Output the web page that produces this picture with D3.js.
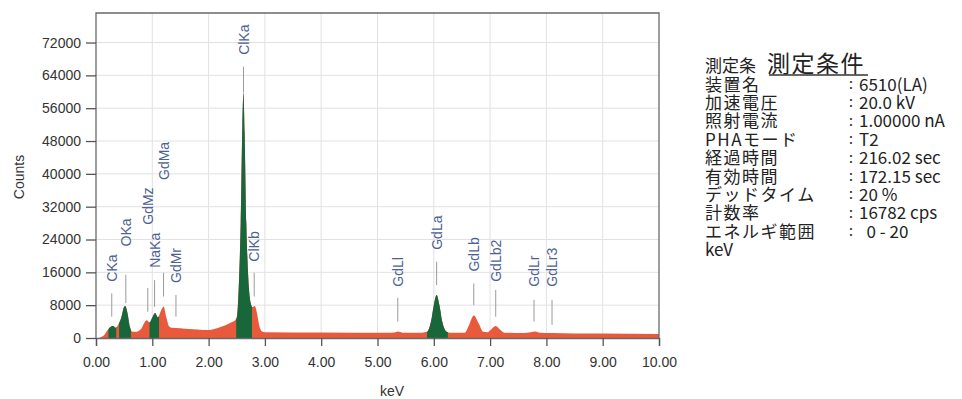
<!DOCTYPE html>
<html>
<head>
<meta charset="utf-8">
<script src="https://cdn.jsdelivr.net/npm/d3@7"></script>
<style>
  html, body { margin: 0; padding: 0; background: #fff; }
  svg { display: block; }
</style>
</head>
<body>
<div id="chart"></div>
<script>
// spectrum (keV vs counts)
const energy = [0.00, 0.05, 0.10, 0.15, 0.20, 0.25, 0.30, 0.35, 0.40, 0.45, 0.50, 0.52, 0.56, 0.60, 0.65, 0.70,
  0.80, 0.85, 0.90, 0.95, 1.00, 1.05, 1.10, 1.15, 1.20, 1.25, 1.30, 1.35, 1.50, 1.65, 1.80, 2.00, 2.20, 2.40, 2.46,
  2.50, 2.54, 2.57, 2.60, 2.62, 2.64, 2.67, 2.70, 2.74, 2.78, 2.82, 2.86, 2.90, 2.95, 3.00, 4.00, 5.20, 5.30,
  5.36, 5.45, 5.80, 5.88, 5.95, 6.00, 6.05, 6.10, 6.15, 6.22, 6.30, 6.55, 6.62, 6.71, 6.80, 6.88, 6.95, 7.02,
  7.10, 7.18, 7.25, 7.60, 7.72, 7.80, 7.88, 8.10, 8.50, 9.00, 10.00]
const counts = [0, 0, 300, 800, 1800, 2600, 2900, 2500, 3400, 5000, 7600, 7800, 6000, 2800, 1500, 1500,
  2200, 3500, 4300, 3800, 5000, 6100, 5000, 6500, 7700, 5000, 2800, 2500, 2400, 2200, 2100, 1950, 2600, 3800, 4200,
  5000, 14000, 28000, 52000, 59800, 50000, 28000, 16000, 9000, 7500, 7800, 6000, 3000, 1600, 1400, 1350, 1300, 1350,
  1600, 1300, 1300, 1500, 4000, 8000, 10500, 8000, 4000, 1600, 1300, 1300, 3000, 5500, 3500, 1500, 1400, 2100,
  2900, 2000, 1300, 1200, 1400, 1600, 1300, 1200, 1100, 1100, 1000]

// green (ROI) windows
const roiStart = [0.22, 0.41, 0.95, 2.49, 5.88]
const roiEnd = [0.36, 0.62, 1.12, 2.77, 6.25]

// peak markers: name, keV, marker low/high (counts), text base (counts)
const peakNames = ['CKa', 'OKa', 'GdMz', 'NaKa', 'GdMa', 'GdMr', 'ClKa', 'ClKb', 'GdLl', 'GdLa', 'GdLb', 'GdLb2', 'GdLr', 'GdLr3']
const peakKeV = [0.28, 0.53, 0.92, 1.04, 1.20, 1.42, 2.62, 2.81, 5.36, 6.05, 6.71, 7.10, 7.78, 8.10]
const markLow = [5200, 8500, 6400, 7600, 10100, 5200, 59800, 10100, 4000, 12900, 8000, 5200, 4000, 3200]
const markHigh = [10900, 15400, 12200, 14100, 15900, 10500, 66100, 15900, 9800, 18600, 13300, 11700, 9300, 9300]
const textBase = [13700, 22300, 27600, 17100, 38500, 13400, 69000, 18600, 12500, 21500, 16200, 13700, 12500, 12500]

const xTicks = [0, 1, 2, 3, 4, 5, 6, 7, 8, 9, 10]
const yTicks = [0, 8000, 16000, 24000, 32000, 40000, 48000, 56000, 64000, 72000]

// measurement conditions
const condLabels = ['装置名', '加速電圧', '照射電流', 'PHAモード', '経過時間', '有効時間', 'デッドタイム', '計数率', 'エネルギ範囲']
const condValues = ['6510(LA)', '20.0 kV', '1.00000 nA', 'T2', '216.02 sec', '172.15 sec', '20 %', '16782 cps', '  0 - 20']

const width = 962
const height = 399
const plotL = 96, plotR = 659, plotT = 13, plotB = 338

const svg = d3.select('#chart').append('svg')
  .attr('width', width)
  .attr('height', height)
  .style('font-family', '"Liberation Sans", Arial, sans-serif')

svg.append('rect').attr('width', width).attr('height', height).attr('fill', '#fff')

const x = d3.scaleLinear().domain([0, 10]).range([plotL, plotR])
const y = d3.scaleLinear().domain([0, 79200]).range([plotB, plotT])

// grid
const grid = svg.append('g').attr('stroke', '#e2e2e2').attr('stroke-width', 1)
grid.selectAll('.vg')
  .data(xTicks.filter(d => d > 0 && d < 10))
  .join('line')
  .attr('x1', d => x(d)).attr('x2', d => x(d))
  .attr('y1', plotT).attr('y2', plotB)
grid.selectAll('.hg')
  .data(yTicks.filter(d => d > 0))
  .join('line')
  .attr('x1', plotL).attr('x2', plotR)
  .attr('y1', d => y(d)).attr('y2', d => y(d))

// spectrum
const pts = energy.map((e, i) => [e, counts[i]])
const area = d3.area()
  .x(d => x(d[0]))
  .y0(y(0))
  .y1(d => y(d[1]))
  .curve(d3.curveMonotoneX)

const defs = svg.append('defs')
const clip = defs.append('clipPath').attr('id', 'roi')
clip.selectAll('rect')
  .data(roiStart)
  .join('rect')
  .attr('x', d => x(d))
  .attr('width', (d, i) => x(roiEnd[i]) - x(d))
  .attr('y', plotT)
  .attr('height', plotB - plotT)

svg.append('path').datum(pts)
  .attr('d', area)
  .attr('fill', '#e95a3c')

svg.append('path').datum(pts)
  .attr('d', area)
  .attr('fill', '#17673a')
  .attr('clip-path', 'url(#roi)')

// frame
svg.append('path')
  .attr('d', `M${plotL},${plotB}V${plotT}H${plotR}V${plotB}`)
  .attr('fill', 'none')
  .attr('stroke', '#6a6a6a')
  .attr('stroke-width', 1.3)

// axes
const yAxis = svg.append('g')
  .attr('transform', `translate(${plotL},0)`)
  .call(d3.axisLeft(y).tickValues(yTicks).tickSize(10).tickPadding(5).tickFormat(d3.format('d')))
yAxis.select('.domain').remove()
yAxis.selectAll('line').attr('stroke', '#555').attr('stroke-width', 1.3)
yAxis.selectAll('text').attr('fill', '#333').attr('font-size', 14)
  .style('font-family', '"Liberation Sans", Arial, sans-serif')

const xAxis = svg.append('g')
  .attr('transform', `translate(0,${plotB})`)
  .call(d3.axisBottom(x).tickValues(xTicks).tickSize(8).tickPadding(11).tickFormat(d3.format('.2f')))
xAxis.select('.domain').attr('stroke', '#6a6a6a').attr('stroke-width', 1.3)
xAxis.selectAll('line').attr('stroke', '#555').attr('stroke-width', 1.3)
xAxis.selectAll('text').attr('fill', '#333').attr('font-size', 14)
  .style('font-family', '"Liberation Sans", Arial, sans-serif')

svg.append('text')
  .attr('transform', 'translate(24,177) rotate(-90)')
  .attr('text-anchor', 'middle')
  .attr('font-size', 14)
  .attr('fill', '#333')
  .text('Counts')

svg.append('text')
  .attr('x', 392)
  .attr('y', 396)
  .attr('text-anchor', 'middle')
  .attr('font-size', 14)
  .attr('fill', '#333')
  .text('keV')

// peak markers
const marks = svg.append('g')
peakNames.forEach((name, i) => {
  marks.append('line')
    .attr('x1', x(peakKeV[i])).attr('x2', x(peakKeV[i]))
    .attr('y1', y(markLow[i])).attr('y2', y(markHigh[i]))
    .attr('stroke', '#9a9a9a')
    .attr('stroke-width', 1)
  marks.append('text')
    .attr('transform', `translate(${x(peakKeV[i])},${y(textBase[i])}) rotate(-90)`)
    .attr('dy', '0.36em')
    .attr('font-size', 14)
    .attr('fill', '#4d6194')
    .text(name)
})

// conditions panel
const panel = svg.append('g').style('font-family', '"Noto Sans CJK JP", sans-serif').attr('fill', '#222')
panel.append('text')
  .attr('x', 705).attr('y', 64)
  .attr('dominant-baseline', 'central')
  .attr('font-size', 17)
  .text('測定条')
panel.append('text')
  .attr('x', 767).attr('y', 62)
  .attr('dominant-baseline', 'central')
  .attr('font-size', 23)
  .attr('letter-spacing', 1.5)
  .text('測定条件')
panel.append('line')
  .attr('x1', 769).attr('x2', 868)
  .attr('y1', 75).attr('y2', 75)
  .attr('stroke', '#333').attr('stroke-width', 1.5)

const lineY = i => 83 + i * 18.4
panel.selectAll('.lab')
  .data(condLabels)
  .join('text')
  .attr('x', 705)
  .attr('y', (d, i) => lineY(i))
  .attr('dominant-baseline', 'central')
  .attr('font-size', 17)
  .attr('letter-spacing', 1.5)
  .text(d => d)
panel.selectAll('.col')
  .data(condLabels)
  .join('text')
  .attr('x', 849)
  .attr('y', (d, i) => lineY(i))
  .attr('dominant-baseline', 'central')
  .attr('font-size', 14)
  .text(':')
panel.selectAll('.val')
  .data(condValues)
  .join('text')
  .attr('x', 859)
  .attr('y', (d, i) => lineY(i))
  .attr('dominant-baseline', 'central')
  .attr('font-size', 17)
  .style('white-space', 'pre')
  .text(d => d)
panel.append('text')
  .attr('x', 705)
  .attr('y', lineY(9))
  .attr('dominant-baseline', 'central')
  .attr('font-size', 17)
  .text('keV')
</script>
</body>
</html>
